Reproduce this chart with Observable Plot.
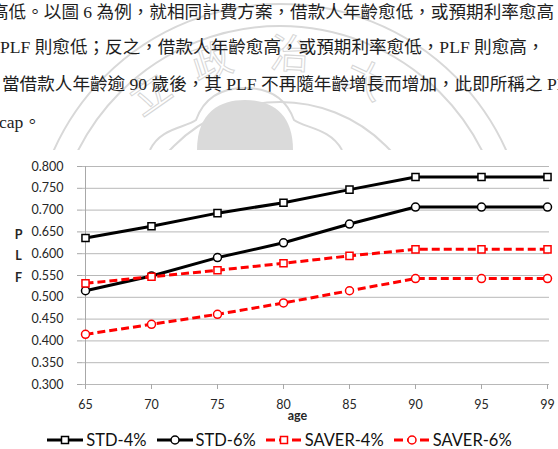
<!DOCTYPE html>
<html><head><meta charset="utf-8">
<script src="https://cdn.jsdelivr.net/npm/d3@7"></script>
<script src="https://cdn.jsdelivr.net/npm/@observablehq/plot@0.6"></script>
<style>
html,body{margin:0;padding:0;background:#fff;}
#page{position:relative;width:558px;height:449px;overflow:hidden;background:#fff;}
#wm{position:absolute;left:0;top:0;}
.para{position:absolute;white-space:nowrap;font-family:"Liberation Serif","Noto Sans CJK TC",serif;font-size:17.6px;color:#1e1e1e;line-height:1;}
#chart{position:absolute;left:0;top:150px;width:558px;height:299px;background:#fff;}
#plot{position:absolute;left:0;top:0;}
#legend{position:absolute;left:0;top:279px;width:558px;height:22px;display:flex;justify-content:center;align-items:center;gap:9px;font-family:Lato,"Open Sans",sans-serif;font-size:16.5px;color:#111;}
.item{display:flex;align-items:center;gap:2px;}
</style>
</head><body>
<div id="page">
  <svg id="wm" width="558" height="150">
    <g fill="none" stroke="#d8d8d8" stroke-width="2">
      <circle cx="280" cy="252" r="248"/>
      <circle cx="280" cy="252" r="226"/>
      <circle cx="280" cy="252" r="150"/>
      <path d="M150,150 C160,128 185,128 196,120 C205,95 225,88 245,88 C265,88 285,95 294,120 C305,128 330,128 342,150"/>
    </g>
    <path d="M197,150 C197,112 220,100 245,100 C270,100 293,112 293,150 Z" fill="#dadada"/>
    <g fill="none" stroke="#d6d6d6" stroke-width="1" font-family="Noto Sans CJK TC" font-size="40" text-anchor="middle">
      <text x="150" y="108" transform="rotate(-35 150 94)">立</text>
      <text x="212" y="76" transform="rotate(-18 212 62)">政</text>
      <text x="290" y="68" transform="rotate(3 290 54)">治</text>
      <text x="365" y="94" transform="rotate(25 365 80)">大</text>
    </g>
  </svg>
  <div class="para" style="left:-9px;top:4px;">高低。以圖 6 為例，就相同計費方案，借款人年齡愈低，或預期利率愈高，</div>
  <div class="para" style="left:0px;top:39px;">PLF 則愈低；反之，借款人年齡愈高，或預期利率愈低，PLF 則愈高，</div>
  <div class="para" style="left:2px;top:76px;">當借款人年齡逾 90 歲後，其 PLF 不再隨年齡增長而增加，此即所稱之 PLF</div>
  <div class="para" style="left:-1px;top:114px;">cap。</div>
  <div id="chart">
    <div id="plot"></div>
    <div id="legend"></div>
  </div>
</div>
<script>
// ---- data ----
const ages = ["65", "70", "75", "80", "85", "90", "95", "99"];
const seriesNames = ["STD-4%", "STD-6%", "SAVER-4%", "SAVER-6%"];
const std4   = [0.636, 0.663, 0.693, 0.717, 0.747, 0.776, 0.776, 0.776];
const std6   = [0.515, 0.549, 0.591, 0.625, 0.668, 0.707, 0.707, 0.707];
const saver4 = [0.532, 0.547, 0.562, 0.578, 0.595, 0.610, 0.610, 0.610];
const saver6 = [0.415, 0.438, 0.461, 0.487, 0.515, 0.543, 0.543, 0.543];
const yTicks = [0.300, 0.350, 0.400, 0.450, 0.500, 0.550, 0.600, 0.650, 0.700, 0.750, 0.800];
const xTitle = "age";
const yTitle = "P\nL\nF";

// ---- styles ----
const styles = {
  "STD-4%":   {color: "#000000", dash: null,  symbol: "square"},
  "STD-6%":   {color: "#000000", dash: null,  symbol: "circle"},
  "SAVER-4%": {color: "#ff0000", dash: "8,4", symbol: "square"},
  "SAVER-6%": {color: "#ff0000", dash: "8,4", symbol: "circle"}
};

const seriesValues = [std4, std6, saver4, saver6];
const data = seriesNames.flatMap((s, i) => ages.map((a, j) => ({series: s, age: a, value: seriesValues[i][j]})));

const seriesMarks = seriesNames.flatMap(s => {
  const st = styles[s];
  const d = data.filter(r => r.series === s);
  return [
    Plot.line(d, {x: "age", y: "value", stroke: st.color, strokeWidth: 3, strokeDasharray: st.dash || undefined, strokeLinecap: "butt"}),
    Plot.dot(d, {x: "age", y: "value", symbol: st.symbol, r: 4, fill: "white", stroke: st.color, strokeWidth: 1.5})
  ];
});

const chart = Plot.plot({
  width: 558, height: 275,
  marginLeft: 82, marginRight: 9, marginTop: 16, marginBottom: 41,
  style: {fontFamily: "Lato, 'Open Sans', sans-serif", fontSize: "12px", color: "#262626", background: "transparent", overflow: "visible"},
  x: {type: "point", domain: ages, padding: 0},
  y: {domain: [0.3, 0.8]},
  marks: [
    Plot.gridY(yTicks, {stroke: "#b8b8b8", strokeOpacity: 1, strokeWidth: 1}),
    Plot.ruleX([ages[0]], {stroke: "#a8a8a8", strokeWidth: 1}),
    Plot.axisY(yTicks, {tickSize: 5, tickPadding: 14, tickFormat: d3.format(".3f"), stroke: "#a8a8a8", fill: "#262626", fontSize: 12.5, label: null}),
    Plot.axisX(ages, {tickSize: 5, tickPadding: 11, stroke: "#a8a8a8", fill: "#262626", fontSize: 12.5, label: null}),
    Plot.text([xTitle], {text: d => d, frameAnchor: "bottom", dx: -18.5, dy: 31, textAnchor: "middle", lineAnchor: "middle", fontWeight: "bold", fontSize: 12.5, fill: "#262626"}),
    Plot.text([yTitle], {text: d => d, frameAnchor: "left", dx: -64, dy: -22, textAnchor: "middle", lineAnchor: "middle", lineHeight: 1.7, fontWeight: "bold", fontSize: 12.5, fill: "#262626"}),
    ...seriesMarks
  ]
});
document.getElementById("plot").appendChild(chart);

// ---- legend ----
const legend = document.getElementById("legend");
const ns = "http://www.w3.org/2000/svg";
seriesNames.forEach(s => {
  const st = styles[s];
  const item = document.createElement("div");
  item.className = "item";
  const svg = document.createElementNS(ns, "svg");
  svg.setAttribute("width", 38); svg.setAttribute("height", 14);
  const line = document.createElementNS(ns, "line");
  line.setAttribute("x1", 1); line.setAttribute("x2", 37); line.setAttribute("y1", 7); line.setAttribute("y2", 7);
  line.setAttribute("stroke", st.color); line.setAttribute("stroke-width", 3);
  if (st.dash) line.setAttribute("stroke-dasharray", "9,4");
  svg.appendChild(line);
  let m;
  if (st.symbol === "square") {
    m = document.createElementNS(ns, "rect");
    m.setAttribute("x", 15.5); m.setAttribute("y", 3.5); m.setAttribute("width", 7); m.setAttribute("height", 7);
  } else {
    m = document.createElementNS(ns, "circle");
    m.setAttribute("cx", 19); m.setAttribute("cy", 7); m.setAttribute("r", 4);
  }
  m.setAttribute("fill", "white"); m.setAttribute("stroke", st.color); m.setAttribute("stroke-width", 1.5);
  svg.appendChild(m);
  item.appendChild(svg);
  const t = document.createElement("span");
  t.textContent = s;
  item.appendChild(t);
  legend.appendChild(item);
});
</script>
</body></html>
